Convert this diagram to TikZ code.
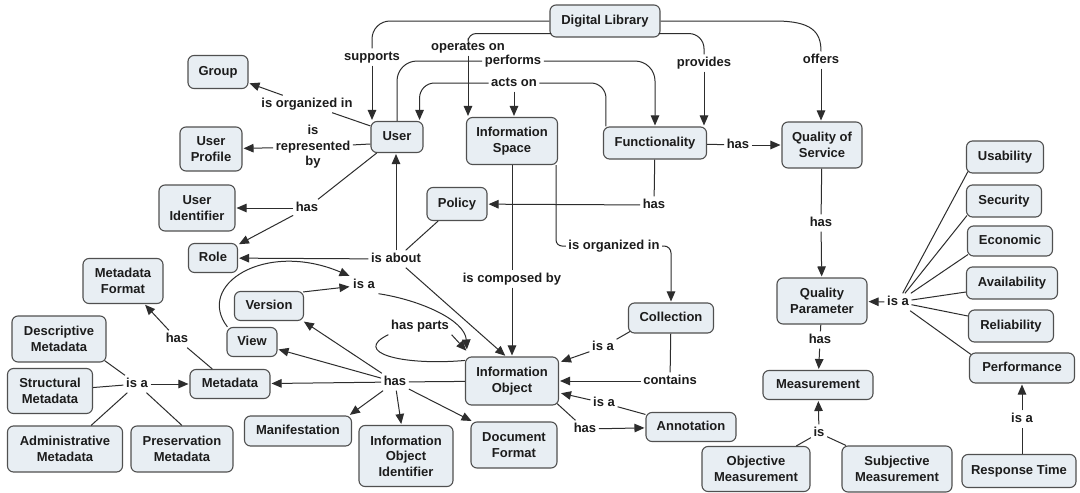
\documentclass[tikz,border=0pt]{standalone}
\usepackage{fontspec}
\setmainfont{Liberation Sans}
\usetikzlibrary{arrows.meta,calc}

\definecolor{boxfill}{RGB}{232,238,243}
\definecolor{boxline}{RGB}{80,80,80}
\definecolor{linkcol}{RGB}{45,45,45}
\definecolor{txt}{RGB}{28,28,28}

\newcommand\cfont{\fontsize{13}{15.5}\selectfont\bfseries}

\tikzset{
  concept/.style={draw=boxline, fill=boxfill, line width=1.1pt, rounded corners=6pt,
    align=center, font=\cfont, text=txt, inner sep=2pt},
  oneline/.style={text height=9.5pt, text depth=2.5pt},
  phrase/.style={font=\cfont, text=txt, inner sep=2.5pt, align=center},
  link/.style={draw=linkcol, line width=1pt},
  arr/.style={link, -{Triangle[length=10pt,width=8.5pt]}, shorten >=1pt},
}

\begin{document}
\begin{tikzpicture}[x=1pt,y=-1pt]
\fill[white] (0,0) rectangle (1080,493);
\useasboundingbox (0,0) rectangle (1080,493);

% ---------- concepts ----------
\node[concept, oneline, minimum width=110pt, minimum height=32pt] (dl) at (605,21) {Digital Library};
\node[concept, oneline, minimum width=60pt, minimum height=33pt] (grp) at (218,72) {Group};
\node[concept, oneline, minimum width=52pt, minimum height=31pt] (user) at (397,137) {User};
\node[concept, minimum width=62pt, minimum height=44pt] (uprof) at (211,149) {User\\Profile};
\node[concept, minimum width=91pt, minimum height=47pt] (is) at (512,141) {Information\\Space};
\node[concept, oneline, minimum width=103pt, minimum height=32pt] (func) at (655,143) {Functionality};
\node[concept, minimum width=80pt, minimum height=46pt] (qos) at (822,145) {Quality of\\Service};
\node[concept, oneline, minimum width=60pt, minimum height=33pt] (pol) at (457,204) {Policy};
\node[concept, minimum width=76pt, minimum height=46pt] (uid) at (197,208) {User\\Identifier};
\node[concept, oneline, minimum width=49pt, minimum height=29pt] (role) at (213,258) {Role};
\node[concept, minimum width=80pt, minimum height=45pt] (mform) at (123,281) {Metadata\\Format};
\node[concept, oneline, minimum width=69pt, minimum height=29pt] (vers) at (269,306) {Version};
\node[concept, oneline, minimum width=50pt, minimum height=29pt] (view) at (252,342) {View};
\node[concept, oneline, minimum width=80pt, minimum height=29pt] (meta) at (230,384) {Metadata};
\node[concept, minimum width=94pt, minimum height=46pt] (desc) at (59,339) {Descriptive\\Metadata};
\node[concept, minimum width=85pt, minimum height=45pt] (struct) at (50,391) {Structural\\Metadata};
\node[concept, minimum width=115pt, minimum height=46pt] (admin) at (65,449) {Administrative\\Metadata};
\node[concept, minimum width=102pt, minimum height=46pt] (pres) at (182,449) {Preservation\\Metadata};
\node[concept, oneline, minimum width=107pt, minimum height=30pt] (manif) at (298,431) {Manifestation};
\node[concept, minimum width=94pt, minimum height=61pt] (ioi) at (406,456) {Information\\Object\\Identifier};
\node[concept, minimum width=86pt, minimum height=46pt] (docf) at (514,445) {Document\\Format};
\node[concept, minimum width=93pt, minimum height=48pt] (io) at (512,381) {Information\\Object};
\node[concept, oneline, minimum width=85pt, minimum height=30pt] (coll) at (671,318) {Collection};
\node[concept, oneline, minimum width=90pt, minimum height=29pt] (ann) at (691,427) {Annotation};
\node[concept, minimum width=90pt, minimum height=46pt] (qp) at (822,301) {Quality\\Parameter};
\node[concept, oneline, minimum width=110pt, minimum height=29pt] (meas) at (818,385) {Measurement};
\node[concept, minimum width=108pt, minimum height=45pt] (obj) at (756,469) {Objective\\Measurement};
\node[concept, minimum width=110pt, minimum height=46pt] (subj) at (897,469) {Subjective\\Measurement};
\node[concept, oneline, minimum width=114pt, minimum height=33pt] (rt) at (1019,471) {Response Time};
\node[concept, oneline, minimum width=105pt, minimum height=30pt] (perf2) at (1022,368) {Performance};
\node[concept, oneline, minimum width=77pt, minimum height=32pt] (use) at (1005,157) {Usability};
\node[concept, oneline, minimum width=75pt, minimum height=32pt] (sec) at (1004,201) {Security};
\node[concept, oneline, minimum width=85pt, minimum height=30pt] (eco) at (1010,241) {Economic};
\node[concept, oneline, minimum width=91pt, minimum height=32pt] (avail) at (1012,283) {Availability};
\node[concept, oneline, minimum width=85pt, minimum height=32pt] (rel) at (1011,326) {Reliability};

% ---------- linking phrases ----------
\node[phrase, oneline] (sup) at (372,57) {supports};
\node[phrase, oneline] (ops) at (468,47) {operates on};
\node[phrase, oneline] (perf) at (513,61) {performs};
\node[phrase, oneline] (acts) at (514,83) {acts on};
\node[phrase, oneline] (prov) at (704,63) {provides};
\node[phrase, oneline] (off) at (821,60) {offers};
\node[phrase, oneline] (org1) at (307,104) {is organized in};
\node[phrase] (rep) at (313,147) {is\\represented\\by};
\node[phrase, oneline] (has1) at (307,208) {has};
\node[phrase, oneline] (has2) at (654,205) {has};
\node[phrase, oneline] (has3) at (738,145) {has};
\node[phrase, oneline] (about) at (396,259) {is about};
\node[phrase, oneline] (org2) at (614,246) {is organized in};
\node[phrase, oneline] (comp) at (512,279) {is composed by};
\node[phrase, oneline] (has4) at (821,223) {has};
\node[phrase, oneline] (isa5) at (898,302) {is a};
\node[phrase, oneline] (has5) at (820,340) {has};
\node[phrase, oneline] (is6) at (819,433) {is};
\node[phrase, oneline] (isa6) at (1022,419) {is a};
\node[phrase, oneline] (isa2) at (364,285) {is a};
\node[phrase, oneline] (hp) at (420,326) {has parts};
\node[phrase, oneline] (has6) at (395,382) {has};
\node[phrase, oneline] (isa3) at (603,347) {is a};
\node[phrase, oneline] (cont) at (670,381) {contains};
\node[phrase, oneline] (isa4) at (604,403) {is a};
\node[phrase, oneline] (has7) at (585,429) {has};
\node[phrase, oneline] (has8) at (177,339) {has};
\node[phrase, oneline] (isa1) at (137,384) {is a};

% ---------- Digital Library links ----------
\draw[link, rounded corners=18pt] (dl.west) -| (sup.north);
\draw[arr] (sup.south) -- (sup.south |- user.north);
\draw[link, rounded corners=8pt] ($(dl.south west)+(2,-4)$) -| (ops.north);
\draw[arr] (ops.south) -- (ops.south |- is.north);
\draw[link, rounded corners=15pt] ($(dl.south east)+(-2,-4)$) -| (prov.north);
\draw[arr] (prov.south) -- (prov.south |- func.north);
\draw[link] (dl.east) -- (775,21) .. controls (812,21) and (821,32) .. (off.north);
\draw[arr] (off.south) -- (off.south |- qos.north);

% ---------- performs / acts on ----------
\draw[link, rounded corners=20pt] (user.north) |- (perf.west);
\draw[arr, rounded corners=20pt] (perf.east) -| (func.north);
\draw[link, rounded corners=15pt] ($(func.north west)+(3,0)$) |- (acts.east);
\draw[arr, rounded corners=15pt] (acts.west) -| ($(user.north east)+(-4,0)$);
\draw[arr] (acts.south) -- (acts.south |- is.north);

% ---------- User ----------
\draw[link] ($(user.north west)+(0,5)$) -- (org1);
\draw[arr] (org1) -- (grp);
\draw[link] ($(user.west)+(0,7)$) -- (rep);
\draw[arr] (rep) -- (uprof);
\draw[link] (user) -- (has1);
\draw[arr] (has1) -- (uid);
\draw[arr] (has1) -- (role);

% ---------- Policy ----------
\draw[link] (pol) -- (about);
\draw[arr] (about.north) -- (about.north |- user.south);
\draw[arr] (about) -- (role);
\draw[arr] (about) -- ($(io.north)+(-6,0)$);

% ---------- Information Space ----------
\draw[link] (is) -- (comp);
\draw[arr] (comp) -- (io);
\draw[link, rounded corners=6pt] ($(is.south east)+(-2,0)$) |- (org2.west);
\draw[arr, rounded corners=7pt] (org2.east) -| (coll.north);

% ---------- Functionality ----------
\draw[link] (func) -- (has2);
\draw[arr] (has2) -- (pol);
\draw[link] (func) -- (has3);
\draw[arr] (has3) -- (qos);

% ---------- Quality ----------
\draw[link] (qos) -- (has4);
\draw[arr] (has4) -- (qp);
\draw[link] ($(use.south west)+(2,-2)$) -- (isa5);
\draw[link] ($(sec.south west)+(1,-2)$) -- (isa5);
\draw[link] ($(eco.south west)+(1,-2)$) -- (isa5);
\draw[link] ($(avail.west)+(0,9)$) -- (isa5);
\draw[link] ($(rel.west)+(0,-10)$) -- (isa5);
\draw[link] ($(perf2.north west)+(2,2)$) -- (isa5);
\draw[arr] (isa5) -- (qp);
\draw[link] (qp) -- (has5);
\draw[arr] (has5) -- (meas);
\draw[link] (obj) -- (is6);
\draw[link] (subj) -- (is6);
\draw[arr] (is6) -- (meas);
\draw[link] (rt.north -| isa6) -- (isa6);
\draw[arr] (isa6) -- (isa6 |- perf2.south);

% ---------- Information Object ----------
\draw[link] ($(coll.south west)+(2,-2)$) -- (isa3);
\draw[arr] (isa3) -- ($(io.east)+(1,-19)$);
\draw[link] (coll) -- (cont);
\draw[arr] (cont) -- (io);
\draw[link] (ann) -- (isa4);
\draw[arr] (isa4) -- ($(io.east)+(1,12)$);
\draw[link] ($(io.south east)+(-2,-2)$) -- (has7);
\draw[arr] (has7) -- (ann);

\draw[link] (io) -- (has6);
\draw[arr] (has6) -- (meta);
\draw[arr] (has6) -- (view);
\draw[arr] (has6) -- ($(vers.south east)+(-1,0)$);
\draw[arr] (has6) -- ($(manif.north east)+(-3,0)$);
\draw[arr] (has6) -- (ioi);
\draw[arr] (has6) -- ($(docf.north west)+(2,0)$);

\draw[link] ($(io.north west)+(0,4)$) .. controls (400,366) and (352,352) .. (hp.south west);
\draw[arr] (hp.south east) -- ($(io.north west)+(2,-5)$);

\draw[arr] ($(vers.north east)+(-1,1)$) -- (isa2);
\draw[arr] ($(view.north west)+(1,0)$) .. controls (195,285) and (265,240) .. (isa2.north west);
\draw[arr] ($(isa2.south east)+(1,0)$) .. controls (420,300) and (465,320) .. ($(io.north west)+(2,-6)$);

% ---------- Metadata ----------
\draw[link] (meta) -- (has8);
\draw[arr] (has8) -- (mform);
\draw[link] ($(desc.south east)+(-2,-2)$) -- (isa1);
\draw[link] (struct) -- (isa1);
\draw[link] (admin) -- (isa1);
\draw[link] (pres.north) -- (isa1);
\draw[arr] (isa1) -- (meta);
\end{tikzpicture}
\end{document}
